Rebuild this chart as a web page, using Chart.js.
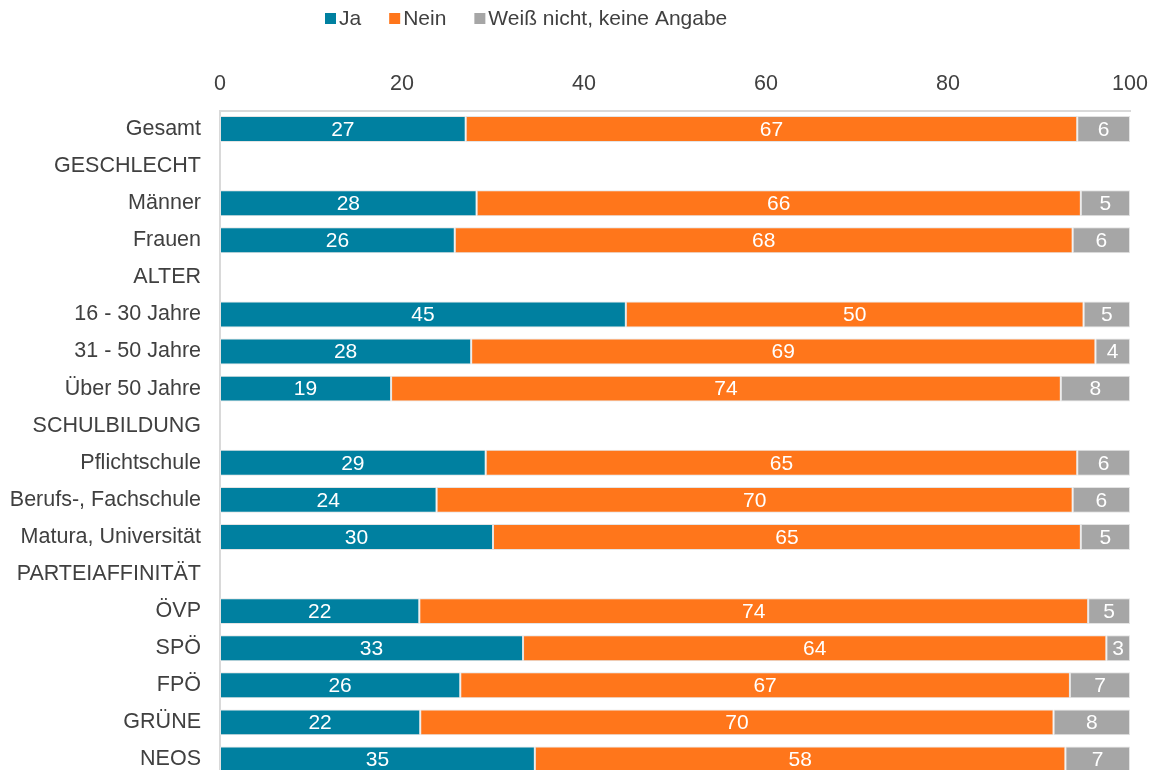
<!DOCTYPE html>
<html>
<head>
<meta charset="utf-8">
<script src="https://cdn.jsdelivr.net/npm/chart.js@4.4.1/dist/chart.umd.min.js"></script>
<style>
  html, body { margin: 0; padding: 0; overflow: hidden; background: #fff; height: 770px; }
  #wrap { width: 1151px; height: 770px; overflow: hidden; }
  canvas { display: block; }
</style>
</head>
<body>
<div id="wrap"><canvas id="chart" width="1151" height="778"></canvas></div>
<script>
// DATA
const categories = ['Gesamt', 'GESCHLECHT', 'Männer', 'Frauen', 'ALTER', '16 - 30 Jahre', '31 - 50 Jahre',
    'Über 50 Jahre', 'SCHULBILDUNG', 'Pflichtschule', 'Berufs-, Fachschule', 'Matura, Universität',
    'PARTEIAFFINITÄT', 'ÖVP', 'SPÖ', 'FPÖ', 'GRÜNE', 'NEOS'];
const ja = [27.0, null, 28.2, 25.8, null, 44.6, 27.6, 18.8, null, 29.2, 23.8, 30.0, null, 21.9, 33.3, 26.4, 22.0, 34.6];
const nein = [67.2, null, 66.4, 67.9, null, 50.3, 68.6, 73.6, null, 65.0, 69.9, 64.6, null, 73.5, 64.1, 67.0, 69.6, 58.3];
const weissNicht = [5.8, null, 5.4, 6.3, null, 5.1, 3.8, 7.6, null, 5.8, 6.3, 5.4, null, 4.6, 2.6, 6.6, 8.4, 7.1];
const xTicks = [0, 20, 40, 60, 80, 100];

const FONT = 'Liberation Sans, Arial, sans-serif';
const TEXT = '#404040';
const SIZE = 21.5;

// value labels inside bars
const barLabels = {
    id: 'barLabels',
    afterDatasetsDraw(chart) {
        const ctx = chart.ctx;
        ctx.save();
        ctx.font = '21px ' + FONT;
        ctx.fillStyle = '#fff';
        ctx.textAlign = 'center';
        ctx.textBaseline = 'middle';
        chart.data.datasets.forEach((ds, i) => {
            chart.getDatasetMeta(i).data.forEach((bar, j) => {
                const v = ds.data[j];
                if (v == null) return;
                ctx.fillText(Math.round(v), (bar.x + bar.base) / 2, bar.y + 1);
            });
        });
        ctx.restore();
    }
};

// legend drawn by hand: small square, tight gap, text
const topLegend = {
    id: 'topLegend',
    afterDraw(chart) {
        const ctx = chart.ctx;
        ctx.save();
        ctx.font = '21px ' + FONT;
        ctx.textBaseline = 'middle';
        ctx.textAlign = 'left';
        let x = 325;
        const y = 18;
        chart.data.datasets.forEach(ds => {
            ctx.fillStyle = ds.backgroundColor;
            ctx.fillRect(x, y - 5, 11, 11);
            x += 14;
            ctx.fillStyle = TEXT;
            ctx.fillText(ds.label, x, y + 1);
            x += ctx.measureText(ds.label).width + 28;
        });
        ctx.restore();
    }
};

new Chart(document.getElementById('chart'), {
    type: 'bar',
    data: {
        labels: categories,
        datasets: [
            { label: 'Ja', data: ja, backgroundColor: '#0080A0' },
            { label: 'Nein', data: nein, backgroundColor: '#FF761B' },
            { label: 'Weiß nicht, keine Angabe', data: weissNicht, backgroundColor: '#A6A6A6' }
        ]
    },
    options: {
        indexAxis: 'y',
        responsive: false,
        animation: false,
        layout: { padding: { left: 0, right: 21, top: 10.5, bottom: 0 } },
        datasets: {
            bar: {
                categoryPercentage: 0.7,
                barPercentage: 1,
                borderColor: '#e4e4e4',
                borderWidth: 1,
                borderSkipped: false
            }
        },
        plugins: {
            legend: { display: false },
            tooltip: { enabled: false }
        },
        scales: {
            x: {
                position: 'top',
                stacked: true,
                min: 0,
                max: 100,
                afterBuildTicks: (scale) => { scale.ticks = xTicks.map(v => ({ value: v })); },
                ticks: {
                    font: { family: FONT, size: SIZE },
                    color: TEXT,
                    padding: 14,
                    maxRotation: 0
                },
                grid: { display: false, drawTicks: false },
                border: { display: true, color: '#d9d9d9', width: 2 },
                afterFit: (scale) => {
                    scale.height = 100;
                    scale.paddingLeft = 0;
                    scale.paddingRight = 0;
                }
            },
            y: {
                stacked: true,
                ticks: {
                    font: { family: FONT, size: SIZE },
                    color: TEXT,
                    padding: 19,
                    autoSkip: false
                },
                grid: { display: false, drawTicks: false },
                border: { display: true, color: '#d9d9d9', width: 2 },
                afterFit: (scale) => {
                    scale.width = 220;
                    scale.paddingTop = 0;
                    scale.paddingBottom = 0;
                }
            }
        }
    },
    plugins: [barLabels, topLegend]
});
</script>
</body>
</html>
